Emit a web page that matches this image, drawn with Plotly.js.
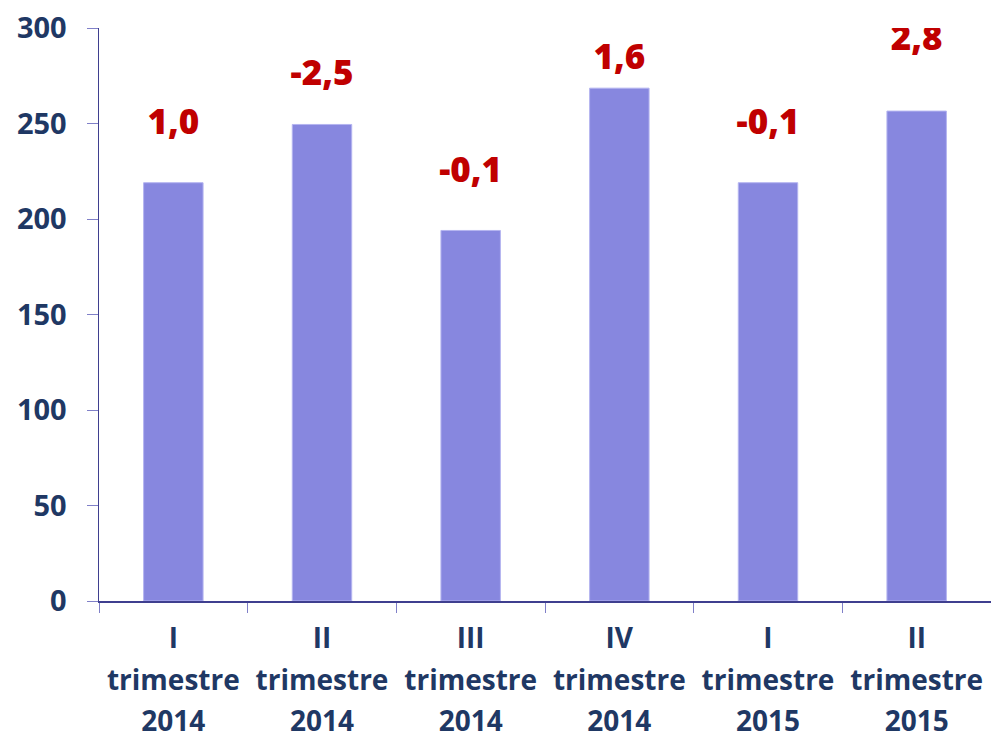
<!DOCTYPE html>
<html>
<head>
<meta charset="utf-8">
<script src="https://cdn.plot.ly/plotly-3.0.1.min.js"></script>
<style>html,body{margin:0;padding:0;background:#fff;}#chart{width:991px;height:743px;}</style>
</head>
<body>
<div id="chart"></div>
<script>
// Data
const categories = ["I<br>trimestre<br>2014", "II<br>trimestre<br>2014", "III<br>trimestre<br>2014", "IV<br>trimestre<br>2014", "I<br>trimestre<br>2015", "II<br>trimestre<br>2015"];
const values = [219, 249.5, 194, 268.5, 219, 256.5];
const changeLabels = ["1,0", "-2,5", "-0,1", "1,6", "-0,1", "2,8"];
const labelLevels = [249, 275, 224, 283, 249, 293];
const yTicks = [0, 50, 100, 150, 200, 250, 300];

const navy = "#1F3864";
const tickText = categories.map(c => c.split("<br>").map(s => '<span style="font-size:28px">' + s + '</span>').join("<br>"));

const traces = [
  {
    type: "bar",
    x: categories,
    y: values,
    width: 0.4,
    marker: {color: "#8787DF", line: {color: "#B4B4F0", width: 1}},
    hoverinfo: "none"
  },
  {
    type: "scatter",
    mode: "text",
    x: categories,
    y: labelLevels,
    text: changeLabels,
    textposition: "middle center",
    textfont: {family: "Open Sans, sans-serif", size: 35, color: "#C00000", weight: 800},
    hoverinfo: "none"
  }
];

const layout = {
  width: 991,
  height: 743,
  margin: {l: 99, r: 0, t: 28, b: 142},
  paper_bgcolor: "#ffffff",
  plot_bgcolor: "#ffffff",
  showlegend: false,
  font: {family: "Open Sans, sans-serif", color: navy},
  xaxis: {
    type: "category",
    tickmode: "array",
    tickvals: categories,
    ticktext: tickText,
    showline: true,
    linecolor: "#3F3F8F",
    linewidth: 1.5,
    ticks: "outside",
    ticklen: 10,
    tickcolor: "#8080C8",
    tickson: "boundaries",
    ticklabelstandoff: 7,
    tickfont: {family: "Open Sans, sans-serif", size: 32, color: navy, weight: 700},
    showgrid: false,
    zeroline: false,
    fixedrange: true
  },
  yaxis: {
    range: [0, 300],
    tickmode: "array",
    tickvals: yTicks,
    ticktext: yTicks.map(String),
    showline: true,
    linecolor: "#3F3F8F",
    linewidth: 1.5,
    ticks: "outside",
    ticklen: 11,
    tickcolor: "#8080C8",
    ticklabelstandoff: 14,
    tickfont: {family: "Open Sans, sans-serif", size: 29, color: navy, weight: 700},
    showgrid: false,
    zeroline: false,
    fixedrange: true
  }
};

Plotly.newPlot("chart", traces, layout, {staticPlot: true, displayModeBar: false});
</script>
</body>
</html>
